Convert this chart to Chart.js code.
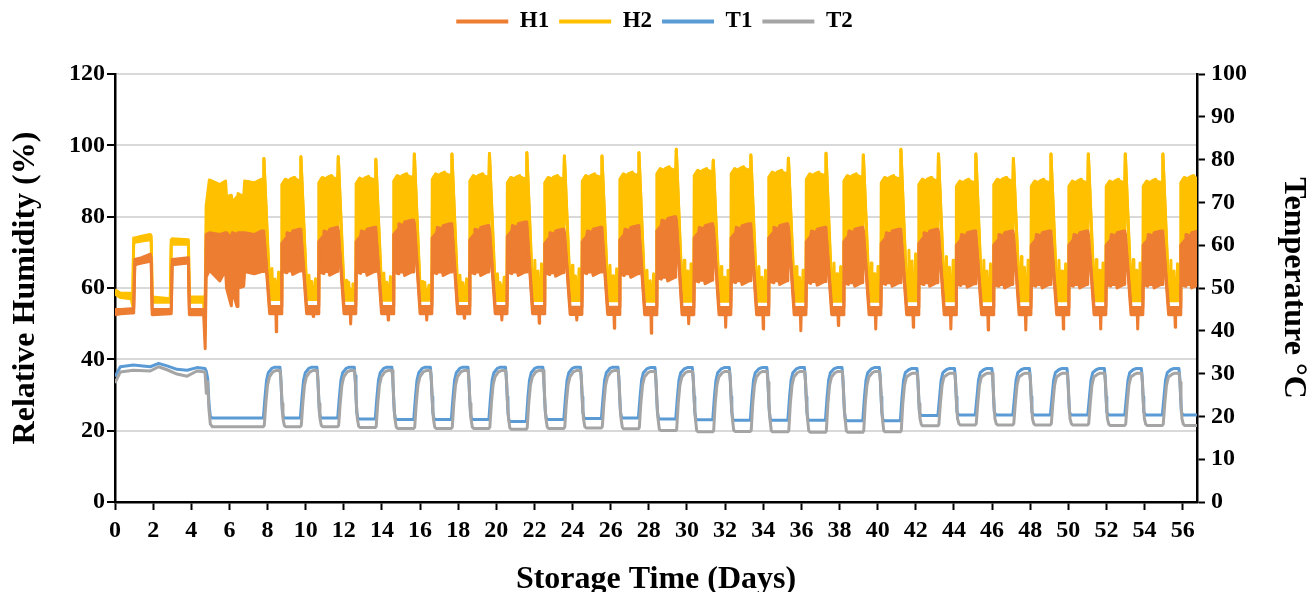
<!DOCTYPE html>
<html>
<head>
<meta charset="utf-8">
<title>Relative humidity and temperature during storage</title>
<script src="https://cdn.jsdelivr.net/npm/chart.js@4.4.1/dist/chart.umd.min.js"></script>
<style>
  html, body { margin: 0; padding: 0; background: #fff; }
  #wrap { position: relative; width: 1309px; height: 592px; }
</style>
</head>
<body>
<div id="wrap"><canvas id="chartStorage"></canvas></div>
<script>
const FONT = "'Liberation Serif', 'Times New Roman', serif";
const INK = "#000000";
const ORANGE = "#ED7D31";
const GOLD = "#FFC000";
const BLUE = "#5B9BD5";
const GREY = "#A5A5A5";

// first days in the room, before the warm/cold cycling starts
const openDays = [0.00, 0.30, 0.85, 0.93, 0.98, 1.04, 1.40, 1.85, 1.90, 1.95, 2.90, 2.95, 3.00, 3.85, 3.90, 4.65, 4.73, 4.78, 4.95, 5.50, 5.80, 5.85, 6.10, 6.15, 6.40, 6.45, 6.75, 6.80, 7.30, 7.70];
const openH2Hi = [59.5, 58.5, 58.5, 56.0, 74.0, 74.0, 74.5, 75.0, 74.5, 57.5, 57.0, 73.5, 73.8, 73.5, 57.5, 57.5, 56.5, 83.0, 90.3, 89.0, 90.0, 85.6, 86.0, 84.0, 85.6, 86.5, 85.6, 90.0, 89.5, 90.5];
const openH2Lo = [58.3, 57.3, 57.0, 55.0, 72.5, 72.8, 73.2, 73.5, 73.0, 56.0, 56.0, 72.0, 72.3, 72.3, 56.0, 56.0, 47.0, 72.0, 72.0, 72.0, 72.0, 63.0, 63.0, 63.0, 63.0, 63.0, 63.0, 72.0, 72.0, 72.0];
const openH1Hi = [54.0, 54.0, 54.2, 54.2, 54.2, 68.0, 68.5, 69.5, 68.5, 54.0, 54.0, 54.0, 68.0, 68.5, 54.0, 54.0, 53.5, 75.0, 75.5, 75.0, 75.5, 75.5, 74.0, 75.5, 75.0, 75.5, 75.5, 75.5, 75.0, 76.0];
const openH1Lo = [52.5, 52.8, 53.0, 53.0, 53.0, 66.5, 67.0, 67.5, 67.0, 52.5, 52.8, 52.8, 66.5, 67.0, 52.5, 52.5, 43.0, 63.0, 65.0, 62.0, 65.0, 60.0, 55.0, 59.5, 54.8, 60.0, 60.5, 64.6, 64.0, 64.6];

const openTDays = [0.00, 0.28, 0.96, 1.85, 2.29, 2.73, 3.25, 3.78, 4.30, 4.72, 4.79, 4.86, 4.93, 5.00, 5.10];
const openT1 = [29.3, 31.6, 32.0, 31.6, 32.4, 31.8, 31.0, 30.8, 31.4, 31.2, 30.5, 28.9, 23.0, 20.0, 19.6];
const openT2 = [27.8, 30.4, 30.8, 30.6, 31.6, 30.9, 29.9, 29.4, 30.6, 30.4, 25.4, 28.1, 21.5, 18.2, 17.6];

// one entry per warm-up (day the heating starts)
const cycleRise = [7.78, 9.72, 11.68, 13.65, 15.67, 17.64, 19.61, 21.57, 23.54, 25.51, 27.45, 29.41, 31.35, 33.32, 35.29, 37.26, 39.22, 41.19, 43.16, 45.12, 47.09, 49.06, 51.02, 52.96, 54.93];
const h2Peak = [96.3, 96.8, 96.8, 96.1, 97.6, 97.6, 97.7, 97.9, 97.0, 97.0, 97.9, 98.9, 95.8, 97.3, 96.4, 97.8, 97.3, 98.9, 97.6, 97.6, 96.3, 97.6, 97.6, 97.6, 97.6];
const h2Top = [90.5, 91.0, 90.8, 91.5, 92.0, 91.5, 91.0, 91.0, 91.5, 92.0, 93.5, 93.0, 93.5, 92.5, 92.0, 91.5, 91.0, 90.5, 90.0, 90.5, 90.0, 90.0, 90.0, 90.0, 91.0];
const h2LowTop = [65.5, 63.6, 62.2, 64.2, 61.8, 63.6, 64.0, 67.8, 66.4, 66.4, 65.0, 67.8, 66.0, 66.0, 66.0, 67.0, 67.0, 70.6, 68.8, 67.8, 68.8, 67.8, 68.0, 68.0, 67.8];
const h2Dry = [56.8, 56.8, 56.6, 56.6, 56.6, 56.5, 56.5, 56.5, 56.5, 56.4, 56.3, 56.3, 56.3, 56.3, 56.3, 56.3, 56.3, 56.4, 56.4, 56.4, 56.4, 56.4, 56.4, 56.4, 56.4];
const h1Top = [76.5, 77.0, 77.0, 79.0, 78.0, 77.5, 78.5, 76.5, 77.0, 77.5, 80.0, 78.0, 78.0, 78.0, 77.0, 77.0, 76.5, 76.5, 76.0, 76.0, 76.0, 76.0, 76.0, 76.0, 76.0];
const h1Bottom = [64.8, 64.6, 64.6, 64.5, 64.5, 64.5, 64.5, 64.3, 64.5, 64.0, 63.0, 62.2, 62.0, 62.0, 61.8, 61.5, 61.5, 61.5, 61.2, 61.0, 61.0, 61.0, 61.0, 61.0, 61.0];
const h1Dry = [52.8, 52.8, 52.8, 52.8, 52.8, 52.8, 52.8, 52.8, 52.6, 52.6, 52.5, 52.5, 52.5, 52.5, 52.5, 52.5, 52.5, 52.5, 52.5, 52.5, 52.5, 52.5, 52.5, 52.5, 52.5];
const h1Dip = [47.7, 52.0, 49.9, 51.0, 51.0, 51.5, 51.0, 50.1, 51.0, 48.7, 47.3, 50.0, 49.0, 48.5, 48.0, 49.5, 48.5, 49.0, 48.5, 48.2, 48.2, 48.5, 48.5, 48.5, 49.0];
const t1High = [31.5, 31.5, 31.5, 31.5, 31.5, 31.5, 31.5, 31.5, 31.5, 31.5, 31.4, 31.4, 31.4, 31.4, 31.4, 31.4, 31.4, 31.2, 31.2, 31.2, 31.2, 31.2, 31.2, 31.2, 31.2];
const t2High = [30.7, 30.7, 30.7, 30.7, 30.7, 30.7, 30.7, 30.7, 30.7, 30.7, 30.5, 30.5, 30.5, 30.5, 30.5, 30.5, 30.5, 30.1, 30.1, 30.1, 30.1, 30.1, 30.1, 30.1, 30.1];
const t1Low = [19.6, 19.6, 19.4, 19.3, 19.3, 19.3, 18.8, 19.3, 19.5, 19.6, 19.4, 19.2, 19.1, 19.1, 19.1, 19.0, 19.0, 20.2, 20.3, 20.3, 20.3, 20.3, 20.3, 20.3, 20.3];
const t2Low = [17.6, 17.6, 17.4, 17.2, 17.2, 17.2, 17.0, 17.2, 17.3, 17.1, 16.7, 16.4, 16.5, 16.4, 16.3, 16.3, 16.4, 17.8, 18.0, 18.0, 18.0, 18.0, 17.9, 17.9, 17.9];

// axis ticks
const dayTicks = { min: 0, max: 56.75, step: 2 };
const rhTicks = { min: 0, max: 120, step: 20 };
const tempTicks = { min: 0, max: 100, step: 10 };

const rhH1 = [], rhH1Low = [], rhH2 = [], rhH2Low = [];
const tempT1 = [], tempT2 = [];

function add(list, x, y) {
  list.push({ x: +x.toFixed(3), y: y });
}

openDays.forEach((d, i) => {
  add(rhH2, d, openH2Hi[i]); add(rhH2Low, d, openH2Lo[i]);
  add(rhH1, d, openH1Hi[i]); add(rhH1Low, d, openH1Lo[i]);
});
openTDays.forEach((d, i) => {
  add(tempT1, d, openT1[i]); add(tempT2, d, openT2[i]);
});

cycleRise.forEach((r, k) => {
  const top2 = k ? h2Top[k - 1] : openH2Hi[openH2Hi.length - 1];
  const top1 = k ? h1Top[k - 1] : openH1Hi[openH1Hi.length - 1];
  const bot1 = k ? h1Bottom[k - 1] : openH1Lo[openH1Lo.length - 1];
  const dry2 = h2Dry[k], dry1 = h1Dry[k];
  const up2 = h2Top[k], up1 = h1Top[k];

  // H2: spike, fall, dry spell while warm, then the humid band
  [
    [0.00, top2, top1 - 4],
    [0.03, h2Peak[k], h2Peak[k]],
    [0.34, dry2 + 2.5, dry2],
    [0.42, dry2 + 3, dry2],
    [0.45, h2LowTop[k], dry2],
    [0.48, dry2 + 4, dry2],
    [0.58, dry2 + 5, dry2],
    [0.61, h2LowTop[k] - 3, dry2],
    [0.64, dry2 + 3, dry2],
    [0.76, dry2 + 3, dry2],
    [0.80, h2LowTop[k] - 1, dry2],
    [0.84, dry2 + 4, dry2],
    [0.95, dry2 + 3, dry2],
    [0.97, up2 - 1.5, up1 - 4],
    [1.15, up2, up1 - 4],
    [1.35, up2 - 0.5, up1 - 4],
    [1.38, up2 - 3, up1 - 4],
    [1.41, up2, up1 - 4],
    [1.62, up2 + 0.5, up1 - 4],
    [1.66, up2 - 2, up1 - 4],
    [1.70, up2, up1 - 4],
    [1.90, up2 - 0.5, up1 - 4],
  ].forEach(([o, hi, lo]) => { add(rhH2, r + o, hi); add(rhH2Low, r + o, lo); });

  // H1 follows the same pattern lower down
  [
    [0.00, top1, bot1],
    [0.03, top1 - 1, top1 - 1],
    [0.33, dry1 + 2, dry1],
    [0.66, dry1 + 2, dry1],
    [0.68, dry1 + 2, h1Dip[k]],
    [0.70, dry1 + 2, dry1],
    [0.95, dry1 + 2, dry1],
    [0.97, up1 - 4, h1Bottom[k]],
    [1.20, up1 - 2.5, h1Bottom[k] - 0.5],
    [1.24, up1 - 1, h1Bottom[k]],
    [1.50, up1 - 1.5, h1Bottom[k]],
    [1.54, up1 - 0.5, h1Bottom[k] - 1],
    [1.90, up1, h1Bottom[k]],
  ].forEach(([o, hi, lo]) => { add(rhH1, r + o, hi); add(rhH1Low, r + o, lo); });

  const prev1 = k ? t1Low[k - 1] : openT1[openT1.length - 1];
  const prev2 = k ? t2Low[k - 1] : openT2[openT2.length - 1];
  [
    [0.00, prev1], [0.09, 24.6], [0.17, 28.5], [0.26, 30.2], [0.44, t1High[k] - 0.3],
    [0.61, t1High[k]], [0.87, t1High[k]], [0.91, 29.5], [0.96, 24.6], [1.00, 21.0],
    [1.05, t1Low[k] + 0.3], [1.12, t1Low[k]],
  ].forEach(([o, v]) => add(tempT1, r + o, v));
  [
    [0.00, prev2], [0.05, prev2 + 0.3], [0.13, 23.0], [0.22, 27.3], [0.32, 29.2],
    [0.50, t2High[k] - 0.3], [0.65, t2High[k]], [0.88, t2High[k]], [0.93, 28.0],
    [0.98, 23.0], [1.03, 19.5], [1.10, t2Low[k] + 0.3], [1.17, t2Low[k]],
  ].forEach(([o, v]) => add(tempT2, r + o, v));
});
add(tempT1, dayTicks.max, t1Low[t1Low.length - 1]);
add(tempT2, dayTicks.max, t2Low[t2Low.length - 1]);

function series(label, data, color, extra) {
  return Object.assign({
    label: label,
    data: data,
    borderColor: color,
    backgroundColor: color,
    borderWidth: 3,
    pointRadius: 0,
    tension: 0,
    fill: false,
    borderJoinStyle: "round",
  }, extra);
}

const tickFont = { family: FONT, size: 24, weight: "bold" };
const titleFont = { family: FONT, size: 32, weight: "bold", lineHeight: 1 };

new Chart(document.getElementById("chartStorage"), {
  type: "line",
  data: {
    datasets: [
      series("H1", rhH1, ORANGE, { fill: "+1", order: 2 }),
      series("", rhH1Low, ORANGE, { order: 3 }),
      series("H2", rhH2, GOLD, { fill: "+1", order: 4 }),
      series("", rhH2Low, GOLD, { order: 5 }),
      series("T1", tempT1, BLUE, { yAxisID: "y1", order: 1 }),
      series("T2", tempT2, GREY, { yAxisID: "y1", order: 0 }),
    ],
  },
  options: {
    responsive: true,
    maintainAspectRatio: false,
    animation: false,
    events: [],
    layout: { padding: 0 },
    plugins: {
      tooltip: { enabled: false },
      legend: {
        position: "top",
        labels: {
          boxWidth: 52,
          boxHeight: 4,
          padding: 10,
          color: INK,
          font: { family: FONT, size: 23, weight: "bold" },
          generateLabels: (chart) =>
            Chart.defaults.plugins.legend.labels.generateLabels(chart)
              .filter((item) => item.text !== "")
              .map((item) => Object.assign(item, { lineWidth: 0 })),
          sort: (a, b) => a.datasetIndex - b.datasetIndex,
        },
      },
      // empty spacer between legend and plot
      title: { display: true, text: "", weight: 500, padding: 0, font: { size: 31, lineHeight: 1 } },
    },
    scales: {
      x: {
        type: "linear",
        min: dayTicks.min,
        max: dayTicks.max,
        ticks: {
          stepSize: dayTicks.step,
          includeBounds: false,
          autoSkip: false,
          maxRotation: 0,
          padding: 6,
          color: INK,
          font: tickFont,
        },
        grid: { drawOnChartArea: false, tickLength: 8, tickColor: INK, tickWidth: 2 },
        border: { color: INK, width: 2.5 },
        title: { display: true, text: "Storage Time (Days)", color: INK, font: titleFont, padding: { top: 0, bottom: -4 } },
        afterFit: (s) => { s.height = 90; },
      },
      y: {
        position: "left",
        min: rhTicks.min,
        max: rhTicks.max,
        ticks: { stepSize: rhTicks.step, padding: 2, color: INK, font: tickFont },
        grid: { color: "#D9D9D9", lineWidth: 2, tickLength: 8, tickColor: INK, tickWidth: 2 },
        border: { color: INK, width: 2.5 },
        title: { display: true, text: "Relative Humidity (%)", color: INK, font: titleFont, padding: { top: 10, bottom: 0 } },
        afterFit: (s) => { s.width = 115; },
      },
      y1: {
        position: "right",
        min: tempTicks.min,
        max: tempTicks.max,
        ticks: { stepSize: tempTicks.step, padding: 6, color: INK, font: tickFont },
        grid: { drawOnChartArea: false, tickLength: 8, tickColor: INK, tickWidth: 2 },
        border: { color: INK, width: 2.5 },
        title: { display: true, text: "Temperature °C", color: INK, font: titleFont, padding: { top: 0, bottom: 0 } },
        afterFit: (s) => { s.width = 112; },
      },
    },
  },
});
</script>
</body>
</html>
